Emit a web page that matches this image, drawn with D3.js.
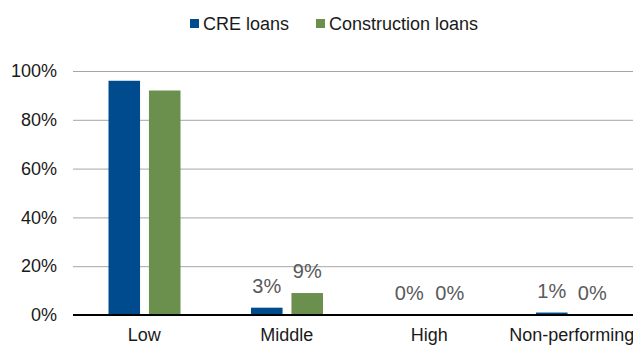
<!DOCTYPE html>
<html>
<head>
<meta charset="utf-8">
<script src="https://cdn.jsdelivr.net/npm/d3@7"></script>
<style>
  body { margin: 0; background: #fff; }
  text { font-family: "Liberation Sans", Arial, sans-serif; }
</style>
</head>
<body>
<div id="chart"></div>
<script>
// data
var categories = ["Low", "Middle", "High", "Non-performing"];
var seriesNames = ["CRE loans", "Construction loans"];
var creValues = [96, 3, 0, 1];
var constructionValues = [92, 9, 0, 0];
var showLabel = [false, true, true, true];
var yTicks = [0, 20, 40, 60, 80, 100];
var colors = ["#004b8d", "#6b8f4c"];

var w = 633;
var h = 345;

var svg = d3.select("#chart")
            .append("svg")
              .attr("width", w)
              .attr("height", h);

var rows = categories.map(function(c, i) {
  return { cat: c, vals: [creValues[i], constructionValues[i]], label: showLabel[i] };
});

var yScale = d3.scaleLinear()
               .domain([0, 100])
               .range([315, 71]);

var xScale = d3.scaleBand()
               .domain(categories)
               .range([73, 643]);

var x1 = d3.scaleBand()
           .domain(seriesNames)
           .range([35.5, 107.5])
           .paddingInner(0.22);

// gridlines
svg.append("g")
   .selectAll("line")
   .data(yTicks.slice(1))
   .enter()
   .append("line")
     .attr("x1", 73)
     .attr("x2", w)
     .attr("y1", function(d) { return yScale(d) + 0.5; })
     .attr("y2", function(d) { return yScale(d) + 0.5; })
     .attr("stroke", "#a6a6a6")
     .attr("stroke-width", 1);

// y axis labels
var y_axis = d3.axisLeft(yScale)
               .tickValues(yTicks)
               .tickFormat(function(d) { return d + "%"; })
               .tickSize(0)
               .tickPadding(0);

var yg = svg.append("g")
   .attr("transform", "translate(57,0)")
   .call(y_axis);
yg.select(".domain").remove();
yg.selectAll("text")
  .attr("font-size", "18px")
  .attr("fill", "#1a1a1a")
  .attr("font-family", "Liberation Sans, Arial, sans-serif");

// bars
var groups = svg.selectAll(".grp")
   .data(rows)
   .enter()
   .append("g")
     .attr("class", "grp")
     .attr("transform", function(d) { return "translate(" + xScale(d.cat) + ",0)"; });

groups.selectAll("rect")
   .data(function(d) { return d.vals.map(function(v, j) { return { s: seriesNames[j], v: v, j: j }; }); })
   .enter()
   .append("rect")
     .attr("x", function(d) { return x1(d.s); })
     .attr("width", x1.bandwidth())
     .attr("y", function(d) { return yScale(d.v); })
     .attr("height", function(d) { return 315 - yScale(d.v); })
     .attr("fill", function(d) { return colors[d.j]; });

// data labels
groups.filter(function(d) { return d.label; })
   .selectAll(".lbl")
   .data(function(d) { return d.vals.map(function(v, j) { return { s: seriesNames[j], v: v }; }); })
   .enter()
   .append("text")
     .attr("class", "lbl")
     .attr("x", function(d) { return x1(d.s) + x1.bandwidth() / 2; })
     .attr("y", function(d) { return yScale(d.v) - 15; })
     .attr("text-anchor", "middle")
     .attr("font-size", "20px")
     .attr("fill", "#595959")
     .text(function(d) { return d.v + "%"; });

// baseline
svg.append("line")
   .attr("x1", 73)
   .attr("x2", w)
   .attr("y1", 315)
   .attr("y2", 315)
   .attr("stroke", "#000")
   .attr("stroke-width", 2);

// x axis labels
var x_axis = d3.axisBottom(xScale)
               .tickSize(0)
               .tickPadding(0);
var xg = svg.append("g")
   .attr("transform", "translate(0,328)")
   .call(x_axis);
xg.select(".domain").remove();
xg.selectAll("text")
  .attr("font-size", "18px")
  .attr("fill", "#1a1a1a")
  .attr("font-family", "Liberation Sans, Arial, sans-serif");

// legend
var legendX = [190, 316];
var leg = svg.selectAll(".leg")
   .data(seriesNames)
   .enter()
   .append("g")
     .attr("class", "leg")
     .attr("transform", function(d, i) { return "translate(" + legendX[i] + ",19)"; });
leg.append("rect")
   .attr("width", 9)
   .attr("height", 9)
   .attr("fill", function(d, i) { return colors[i]; });
leg.append("text")
   .attr("x", 13)
   .attr("y", 11)
   .attr("font-size", "18px")
   .attr("fill", "#1a1a1a")
   .text(function(d) { return d; });
</script>
</body>
</html>
